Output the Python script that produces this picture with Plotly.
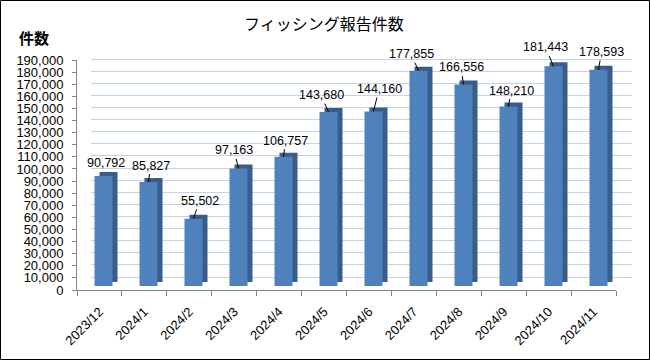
import plotly.graph_objects as go

# ---------------- data ----------------
months = ["2023/12", "2024/1", "2024/2", "2024/3", "2024/4", "2024/5",
          "2024/6", "2024/7", "2024/8", "2024/9", "2024/10", "2024/11"]
reports = [90792, 85827, 55502, 97163, 106757, 143680,
           144160, 177855, 166556, 148210, 181443, 178593]
y_ticks = list(range(0, 190001, 10000))
title_text = "フィッシング報告件数"
unit_text = "件数"

# ---------------- styling / geometry ----------------
W, H = 650, 360
YMAX = 190000
FRONT_C = "#4F81BD"
DARK_C = "#385D8A"
GRID_C = "#C0D3EA"
AXIS_C = "#868686"
FONT = "Liberation Sans, Arial, sans-serif"
JP_FONT = "Noto Sans CJK JP"

def px_x(p):
    return p / W

def px_y(p):
    return 1 - p / H

# label offsets (pixels) relative to bar top, and whether a leader line is drawn
label_offsets = [(2.5, -13), (2, -16.5), (6, -18), (-4.5, -18), (2, -16), (-7.5, -17),
                 (5.5, -22.5), (-7.5, -16.7), (-2.5, -17), (2.5, -16), (-8, -19), (3, -18)]
leader = [False] + [True] * 11

bar_w = 0.4
side_px, top_px = 5, 4
cat_px = (621 - 81) / 12.0
depth_units = top_px * YMAX / (286 - 56)

fig = go.Figure()

# back wall subplot (x, y) – gridlines
fig.add_trace(go.Scatter(x=[0], y=[0], xaxis="x", yaxis="y", mode="markers",
                         marker=dict(opacity=0), hoverinfo="skip", showlegend=False))
# front axes subplot (x2, y2)
fig.add_trace(go.Scatter(x=months, y=reports, xaxis="x2", yaxis="y2", mode="markers",
                         marker=dict(opacity=0), hoverinfo="skip", showlegend=False))
# bars (x3, y3): dark back copy for side/top faces, then front face
fig.add_trace(go.Bar(x=months, y=reports, base=depth_units, xaxis="x3", yaxis="y3",
                     width=bar_w, offset=-bar_w / 2 + side_px / cat_px,
                     marker=dict(color=DARK_C, line=dict(width=0)),
                     hoverinfo="skip", showlegend=False))
fig.add_trace(go.Bar(x=months, y=reports, xaxis="x3", yaxis="y3",
                     width=bar_w, offset=-bar_w / 2,
                     marker=dict(color=FRONT_C, line=dict(width=0)),
                     hoverinfo="skip", showlegend=False))

shapes = []
# side-wall diagonals for each gridline
for v in y_ticks:
    shapes.append(dict(type="line", xref="x", yref="y", xsizemode="pixel", ysizemode="pixel",
                       xanchor=-0.5, yanchor=v, x0=-14, y0=-13, x1=0, y1=0,
                       line=dict(color=GRID_C, width=1), layer="below"))
# right floor edge
shapes.append(dict(type="line", xref="x", yref="y", xsizemode="pixel", ysizemode="pixel",
                   xanchor=11.5, yanchor=0, x0=-16, y0=-13, x1=0, y1=0,
                   line=dict(color=AXIS_C, width=1), layer="below"))
# chart border
shapes.append(dict(type="rect", xref="paper", yref="paper",
                   x0=px_x(0.5), y0=px_y(359.5), x1=px_x(649.5), y1=px_y(0.5),
                   line=dict(color="black", width=1), layer="above"))

annotations = []
for i, (m, v) in enumerate(zip(months, reports)):
    ax, ay = label_offsets[i]
    annotations.append(dict(x=m, y=v, xref="x3", yref="y3", text=f"{v:,}",
                            showarrow=True, arrowhead=0, arrowwidth=1,
                            arrowcolor="black" if leader[i] else "rgba(0,0,0,0)",
                            ax=ax, ay=ay, standoff=0,
                            font=dict(family=FONT, size=12.5, color="black")))
annotations.append(dict(x=px_x(323.5), y=px_y(23), xref="paper", yref="paper",
                        text=title_text, showarrow=False, xanchor="center", yanchor="middle",
                        font=dict(family=JP_FONT, size=16, color="black")))
annotations.append(dict(x=px_x(34), y=px_y(38), xref="paper", yref="paper",
                        text=f"<b>{unit_text}</b>", showarrow=False, xanchor="center",
                        yanchor="middle", font=dict(family=JP_FONT, size=15, color="black")))

fig.update_layout(
    width=W, height=H,
    margin=dict(l=0, r=0, t=0, b=0, pad=0, autoexpand=False),
    paper_bgcolor="white", plot_bgcolor="rgba(0,0,0,0)",
    barmode="overlay", showlegend=False,
    xaxis=dict(domain=[px_x(91), px_x(632)], range=[-0.5, 11.5], anchor="y", automargin=False,
               showgrid=False, showticklabels=False, zeroline=False, showline=False, ticks=""),
    yaxis=dict(domain=[px_y(277), px_y(47)], range=[0, YMAX], anchor="x", automargin=False,
               tickvals=y_ticks, showgrid=True, gridcolor=GRID_C, gridwidth=1,
               zeroline=True, zerolinecolor=GRID_C, zerolinewidth=1,
               showticklabels=False, showline=False, ticks=""),
    xaxis2=dict(domain=[px_x(77), px_x(616)], type="category", categoryarray=months,
                categoryorder="array", range=[-0.5, 11.5], anchor="y2", automargin=False,
                tickson="boundaries", ticks="outside", ticklen=5, tickcolor=AXIS_C,
                showline=True, linecolor=AXIS_C, linewidth=1, showgrid=False,
                tickangle=-45, ticklabelstandoff=8,
                tickfont=dict(family=FONT, size=13, color="black")),
    yaxis2=dict(domain=[px_y(290), px_y(60)], range=[0, YMAX], anchor="x2", automargin=False,
                tickvals=y_ticks, tickformat=",", ticks="outside", ticklen=4,
                tickcolor=AXIS_C, showline=True, linecolor=AXIS_C, linewidth=1,
                showgrid=False, zeroline=False, ticklabelstandoff=6,
                tickfont=dict(family=FONT, size=13, color="black")),
    xaxis3=dict(domain=[px_x(81), px_x(621)], type="category", categoryarray=months,
                categoryorder="array", range=[-0.5, 11.5], anchor="y3", visible=False,
                automargin=False),
    yaxis3=dict(domain=[px_y(286), px_y(56)], range=[0, YMAX], anchor="x3", visible=False,
                automargin=False),
    shapes=shapes,
    annotations=annotations,
)

fig.write_html("out.html", config={"displayModeBar": False},
               post_script="document.body.style.margin='0px';")
